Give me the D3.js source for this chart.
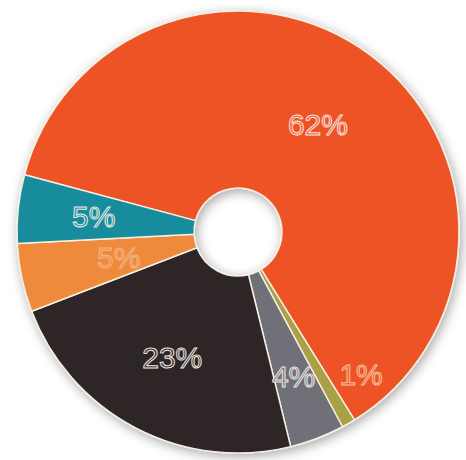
<!DOCTYPE html>
<html><head><meta charset="utf-8">
<script src="https://cdn.jsdelivr.net/npm/d3@7"></script>
<style>html,body{margin:0;padding:0;background:#fff;}svg{display:block;}</style>
</head><body>
<script>
const categories = ["A","B","C","D","E","F"];
const values = [62, 1, 4, 23, 5, 5];
const labels = ["62%","1%","4%","23%","5%","5%"];
const colors = ["#ee5228","#a9a046","#6f6f78","#2f2828","#ef8a3c","#168c9c"];

const W = 466, H = 460;
const svg = d3.select("body").append("svg").attr("width", W).attr("height", H);
const defs = svg.append("defs");
const f = defs.append("filter").attr("id","sh").attr("x","-20%").attr("y","-20%").attr("width","140%").attr("height","140%");
f.append("feGaussianBlur").attr("in","SourceAlpha").attr("stdDeviation",6).attr("result","b");
f.append("feOffset").attr("in","b").attr("dx",2).attr("dy",3).attr("result","o");
f.append("feComponentTransfer").attr("in","o").attr("result","o2").append("feFuncA").attr("type","linear").attr("slope",0.35);
const m = f.append("feMerge"); m.append("feMergeNode").attr("in","o2"); m.append("feMergeNode").attr("in","SourceGraphic");

const cx = 238, cy = 232, R = 221, r0 = 44;
const g = svg.append("g").attr("transform", `translate(${cx},${cy})`);
const start = -75 * Math.PI / 180;
const pie = d3.pie().sort(null).value(d => d).startAngle(start).endAngle(start + 2*Math.PI);
const arcs = pie(values);
const arc = d3.arc().innerRadius(r0).outerRadius(R);

g.append("g").attr("filter","url(#sh)")
  .selectAll("path").data(arcs).join("path")
  .attr("d", arc)
  .attr("fill", (d,i) => colors[i])
  .attr("stroke", "#f4efe0").attr("stroke-width", 1.5).attr("stroke-linejoin","round");

const labelR = [134, 188, 155, 142, 122, 145];
const angleShift = [0, -0.19, 0, 0, 0, 0];
g.selectAll("text").data(arcs).join("text")
  .attr("transform", (d,i) => {
    const a = (d.startAngle + d.endAngle)/2 + angleShift[i];
    return `translate(${Math.sin(a)*labelR[i]},${-Math.cos(a)*labelR[i]})`;
  })
  .attr("text-anchor","middle").attr("dy","0.35em")
  .attr("font-family","Liberation Sans, Arial, sans-serif")
  .attr("font-size", 30)
  .attr("fill", (d,i) => i===1 ? "#f0602f" : i===4 ? "#f0904a" : d3.color(colors[i]).brighter(0.2))
  .attr("stroke", (d,i) => i===4 ? "#f3b585" : i===1 ? "#f7c0a0" : "#eee6e0").attr("stroke-width", 1)
  .text((d,i) => labels[i]);
</script>
</body></html>
